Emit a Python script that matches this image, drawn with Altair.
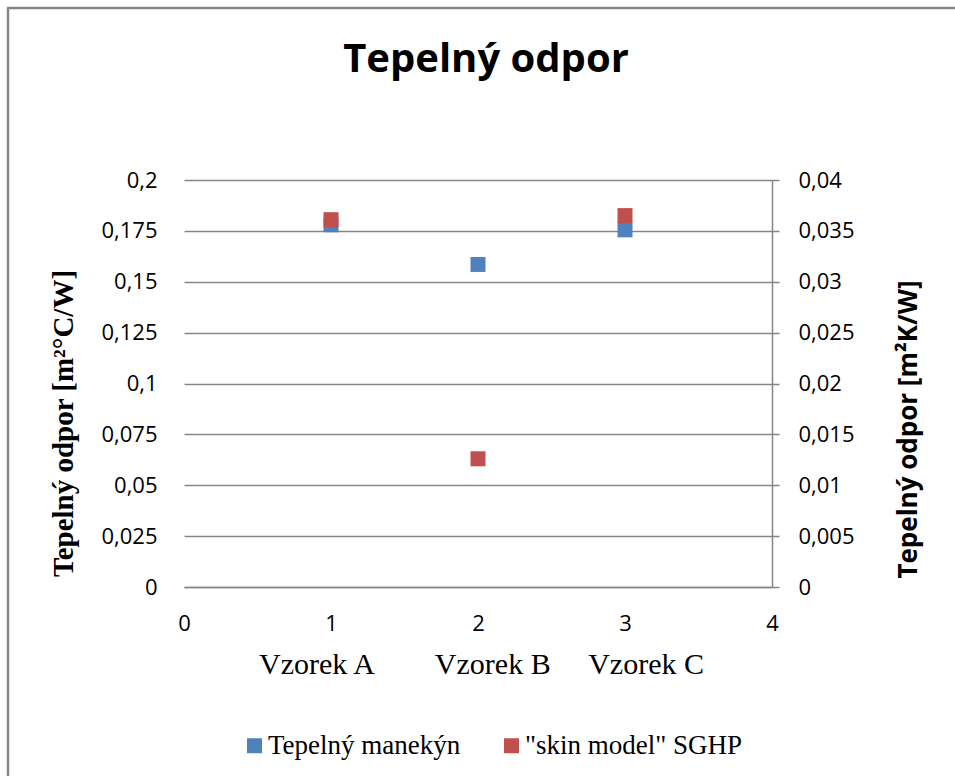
import altair as alt
import pandas as pd

# ---- data ----
samples = [1, 2, 3]
manikin_values = [0.178, 0.1585, 0.1755]      # left axis [m2°C/W]
skin_values = [0.0361, 0.0126, 0.0365]        # right axis [m2K/W]
series_names = ["Tepelný manekýn", "\"skin model\" SGHP"]
series_colors = ["#4F81BD", "#C0504D"]
left_ticks = [0, 0.025, 0.05, 0.075, 0.1, 0.125, 0.15, 0.175, 0.2]
right_ticks = [0, 0.005, 0.01, 0.015, 0.02, 0.025, 0.03, 0.035, 0.04]
x_ticks = [0, 1, 2, 3, 4]
category_labels = ["Vzorek A", "Vzorek B", "Vzorek C"]

W, H = 588, 407
GRAY = "#868686"
SANS = "Open Sans"
SERIF = "Liberation Serif"
NB = "\u00a0"
comma_expr = "replace(toString(datum.value), '.', ',')"

df_blue = pd.DataFrame({"x": samples, "y": manikin_values, "series": series_names[0]})
df_red = pd.DataFrame({"x": samples, "y": skin_values, "series": series_names[1]})
df_one = pd.DataFrame({"k": [0]})

x_title = category_labels[0] + NB * 8 + category_labels[1] + NB * 5 + category_labels[2]

x_axis = alt.Axis(
    values=x_ticks, format="d", labelFont=SANS, labelFontSize=22, labelColor="black",
    labelPadding=26, labelFlush=False, ticks=False, tickSize=0, domain=True,
    domainColor=GRAY, domainWidth=1.5,
    grid=False, title=x_title, titleFont=SERIF, titleFontSize=30, titleFontWeight="normal",
    titleColor="black", titleX=297, titleY=86, titleBaseline="alphabetic", titleAlign="center",
)
x_enc = alt.X("x:Q", scale=alt.Scale(domain=[0, 4], nice=False), axis=x_axis)

color_enc = alt.Color(
    "series:N",
    scale=alt.Scale(domain=series_names, range=series_colors),
    legend=alt.Legend(
        title=None, orient="none", legendX=57, legendY=552, direction="horizontal",
        symbolType="square", symbolSize=225, symbolStrokeWidth=0, symbolOpacity=1,
        labelFont=SERIF, labelFontSize=27, labelColor="black", labelOffset=0,
        columnPadding=37, padding=0, labelLimit=400,
    ),
)

blue = alt.Chart(df_blue).mark_square(size=225, opacity=1).encode(
    x=x_enc,
    y=alt.Y(
        "y:Q", scale=alt.Scale(domain=[0, 0.2], nice=False),
        axis=alt.Axis(
            values=left_ticks, labelExpr=comma_expr, labelFont=SANS, labelFontSize=22,
            labelColor="black", labelPadding=27, ticks=False, tickSize=0, domain=False,
            grid=True, gridColor=GRAY, gridWidth=1.5,
            title="Tepelný odpor [m²°C/W]", titleFont=SERIF, titleFontSize=29,
            titleFontWeight="bold", titleColor="black", titleAngle=270,
            titleX=-121, titleY=243, titleBaseline="middle", titleAlign="center",
        ),
    ),
    color=color_enc,
)

red = alt.Chart(df_red).mark_square(size=225, opacity=1).encode(
    x=x_enc,
    y=alt.Y(
        "y:Q", scale=alt.Scale(domain=[0, 0.04], nice=False),
        axis=alt.Axis(
            orient="right", values=right_ticks, labelExpr=comma_expr, labelFont=SANS,
            labelFontSize=22, labelColor="black", labelPadding=19, ticks=True, tickSize=7,
            tickColor=GRAY, tickWidth=1.5, domain=True, domainColor=GRAY, domainWidth=1.5,
            grid=False, title="Tepelný odpor [m²K/W]", titleFont=SANS, titleFontSize=26,
            titleFontWeight="bold", titleColor="black", titleAngle=270,
            titleX=136, titleY=249, titleBaseline="middle", titleAlign="center",
        ),
    ),
    color=color_enc,
)

# chart-area frame (left and top edges visible in the reference)
frame_left = alt.Chart(df_one).mark_rule(color=GRAY, strokeWidth=2.5).encode(
    x=alt.value(-176), y=alt.value(-172), y2=alt.value(600)
)
frame_top = alt.Chart(df_one).mark_rule(color=GRAY, strokeWidth=2.5).encode(
    x=alt.value(-177), x2=alt.value(780), y=alt.value(-172)
)

chart = (
    alt.layer(frame_left, frame_top, blue, red)
    .resolve_scale(y="independent")
    .properties(
        width=W, height=H,
        autosize=alt.AutoSizeParams(type="none"),
        padding={"left": 184, "top": 180, "right": 183, "bottom": 189},
        title=alt.TitleParams(
            "Tepelný odpor", font=SANS, fontSize=40, fontWeight="bold", color="black",
            anchor="middle", offset=0, dy=73, dx=8,
        ),
    )
    .configure(background="white")
    .configure_view(stroke=None)
)

chart.save("out.html", embed_options={"renderer": "svg", "actions": False})
